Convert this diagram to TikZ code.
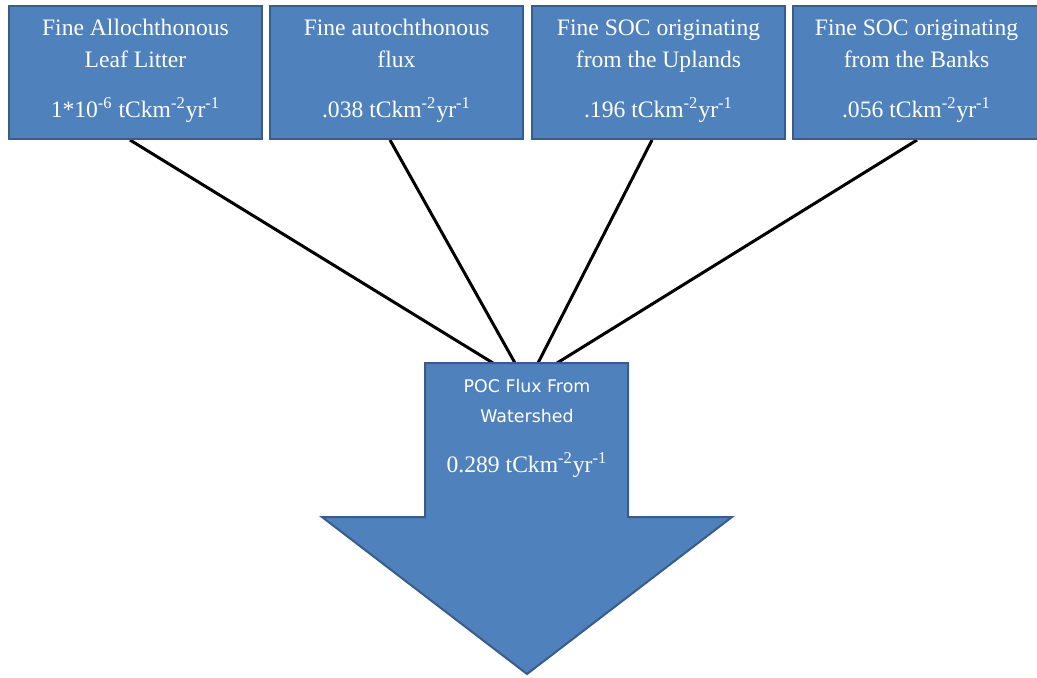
\documentclass[tikz,border=0pt]{standalone}
\usepackage{fontspec}
\setmainfont{Liberation Serif}
\newfontfamily\sansf{DejaVu Sans}
\usetikzlibrary{backgrounds}
\definecolor{boxblue}{HTML}{4F81BD}
\definecolor{boxedge}{HTML}{385D8A}
\newcommand\fluxunit[1]{#1 tCkm\textsuperscript{-2}yr\textsuperscript{-1}}
\begin{document}
\begin{tikzpicture}[x=0.5pt,y=-0.5pt,
  box/.style={draw=boxedge, fill=boxblue, line width=1pt, minimum width=126.5pt, minimum height=66.5pt, inner sep=0pt},
  txt/.style={text=white, font=\fontsize{11.8}{14}\selectfont, anchor=base, inner sep=0pt},
  stxt/.style={text=white, font=\sansf\fontsize{8.7}{10}\selectfont, anchor=base, inner sep=0pt},
  link/.style={line width=1.5pt, draw=black},
  bigarrow/.style={draw=boxedge, fill=boxblue, line width=1pt, line join=miter}]
\useasboundingbox (0,0) rectangle (1037,677);
% top boxes
\node[box] (b1) at (135.5,72.5) {};
\node[box] (b2) at (396.5,72.5) {};
\node[box] (b3) at (658.5,72.5) {};
\node[box] (b4) at (919.5,72.5) {};
% texts
\node[txt] (t11) at (135.5,35) {Fine Allochthonous};
\node[txt] (t12) at (135.5,67) {Leaf Litter};
\node[txt] (t13) at (135.5,117) {\fluxunit{1*10\textsuperscript{-6}}};
\node[txt] (t21) at (396.5,35) {Fine autochthonous};
\node[txt] (t22) at (396.5,67) {flux};
\node[txt] (t23) at (396.5,117) {\fluxunit{.038}};
\node[txt] (t31) at (658.5,35) {Fine SOC originating};
\node[txt] (t32) at (658.5,67) {from the Uplands};
\node[txt] (t33) at (658.5,117) {\fluxunit{.196}};
\node[txt] (t41) at (916.5,35) {Fine SOC originating};
\node[txt] (t42) at (916.5,67) {from the Banks};
\node[txt] (t43) at (916.5,117) {\fluxunit{.056}};
% big arrow
\draw[bigarrow] (425,363) -- (628,363) -- (628,517) -- (732,517) -- (527,674) -- (322,517) -- (425,517) -- cycle;
\coordinate (p1) at (493,363);
\coordinate (p2) at (515,363);
\coordinate (p3) at (538,363);
\coordinate (p4) at (557,363);
\node[stxt] (a1) at (527,392) {POC Flux From};
\node[stxt] (a2) at (527,422) {Watershed};
\node[txt] (a3) at (527,472) {\fluxunit{0.289}};
% connectors
\begin{scope}[on background layer]
\draw[link] ([xshift=-2.75pt]b1.south) -- (p1);
\draw[link] ([xshift=-3.25pt]b2.south) -- (p2);
\draw[link] ([xshift=-3.25pt]b3.south) -- (p3);
\draw[link] ([xshift=-1.25pt]b4.south) -- (p4);
\end{scope}
\end{tikzpicture}
\end{document}
